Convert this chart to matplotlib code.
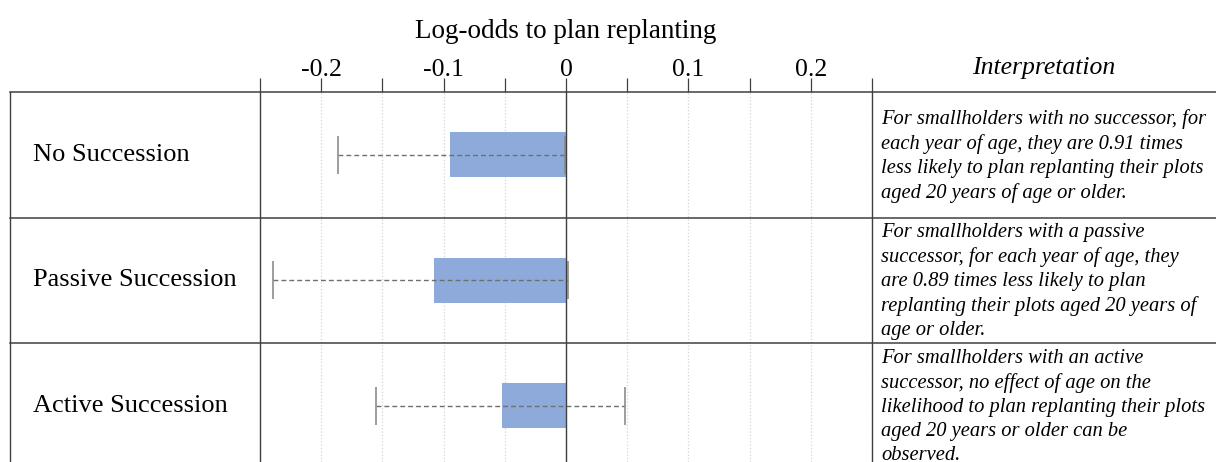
import matplotlib
matplotlib.use('Agg')  # noqa
import matplotlib.pyplot as plt
import matplotlib.transforms as mtransforms
from matplotlib.lines import Line2D

plt.rcParams['font.family'] = ['Liberation Serif', 'DejaVu Serif']

# Log-odds of planning replanting, per succession group
groups = ["No Succession", "Passive Succession", "Active Succession"]
log_odds = [-0.095, -0.108, -0.052]
ci_low = [-0.186, -0.2395, -0.155]
ci_high = [-0.001, 0.002, 0.048]
tick_values = [-0.2, -0.1, 0, 0.1, 0.2]
tick_labels = ["-0.2", "-0.1", "0", "0.1", "0.2"]
minor_values = [-0.25, -0.15, -0.05, 0.05, 0.15, 0.25]
notes = [
    "For smallholders with no successor, for\n"
    "each year of age, they are 0.91 times\n"
    "less likely to plan replanting their plots\n"
    "aged 20 years of age or older.",
    "For smallholders with a passive\n"
    "successor, for each year of age, they\n"
    "are 0.89 times less likely to plan\n"
    "replanting their plots aged 20 years of\n"
    "age or older.",
    "For smallholders with an active\n"
    "successor, no effect of age on the\n"
    "likelihood to plan replanting their plots\n"
    "aged 20 years or older can be\n"
    "observed.",
]

W, H = 1216, 462
LINE = '#404040'

fig = plt.figure(figsize=(W / 100, H / 100), dpi=100)
ax = fig.add_axes([260 / W, 0, 612 / W, (H - 92) / H])

ypos = list(range(len(groups)))
ax.barh(ypos, log_odds, height=0.36, color='#8eaadb', zorder=2)

xerr = [[v - lo for v, lo in zip(log_odds, ci_low)],
        [hi - v for v, hi in zip(log_odds, ci_high)]]
_, caps, bars = ax.errorbar(log_odds, ypos, xerr=xerr, fmt='none',
                            ecolor='#8c8c8c', elinewidth=1.0, capsize=13.5,
                            capthick=1.2, zorder=3)
bars[0].set_linestyle((0, (3.5, 2.2)))
bars[0].set_color('#6e6e6e')

ax.set_xlim(-0.25, 0.25)
ax.set_ylim(2.448, -0.5)
ax.axvline(0, color=LINE, lw=1.0, zorder=4)

ax.xaxis.tick_top()
ax.set_xticks(tick_values)
ax.set_xticklabels(tick_labels)
ax.set_xticks(minor_values, minor=True)
ax.tick_params(axis='x', which='both', direction='out', length=10, width=0.9,
               color=LINE, labelsize=18.5, pad=-2)
ax.set_yticks([])
ax.grid(axis='x', which='both', color='#d4d4d4', linestyle=':', lw=0.9, zorder=0)
for side in ['top', 'bottom']:
    ax.spines[side].set_visible(False)
for side in ['left', 'right']:
    ax.spines[side].set_color(LINE)
    ax.spines[side].set_linewidth(1.0)

fig.text(566 / W, 1 - 31 / H, "Log-odds to plan replanting", ha='center', va='center',
         fontsize=19.5)
fig.text(1044 / W, 1 - 68 / H, "Interpretation", ha='center', va='center',
         fontsize=18.5, style='italic')

# table rules, positioned with figure x and data y
blend = mtransforms.blended_transform_factory(fig.transFigure, ax.transData)
for yb in [-0.5, 0.5, 1.5]:
    fig.add_artist(Line2D([10 / W, 1], [yb, yb], transform=blend, color=LINE, lw=1.1))
fig.add_artist(Line2D([10 / W, 10 / W], [-0.5, 3], transform=blend, color=LINE, lw=1.0))

for i, (name, note) in enumerate(zip(groups, notes)):
    fig.text(33 / W, i, name, transform=blend, ha='left', va='center', fontsize=19)
    fig.text(881 / W, i + 0.01, note, transform=blend, ha='left', va='center',
             fontsize=14.8, style='italic', linespacing=1.36)

fig.savefig('out.png', dpi=100)
